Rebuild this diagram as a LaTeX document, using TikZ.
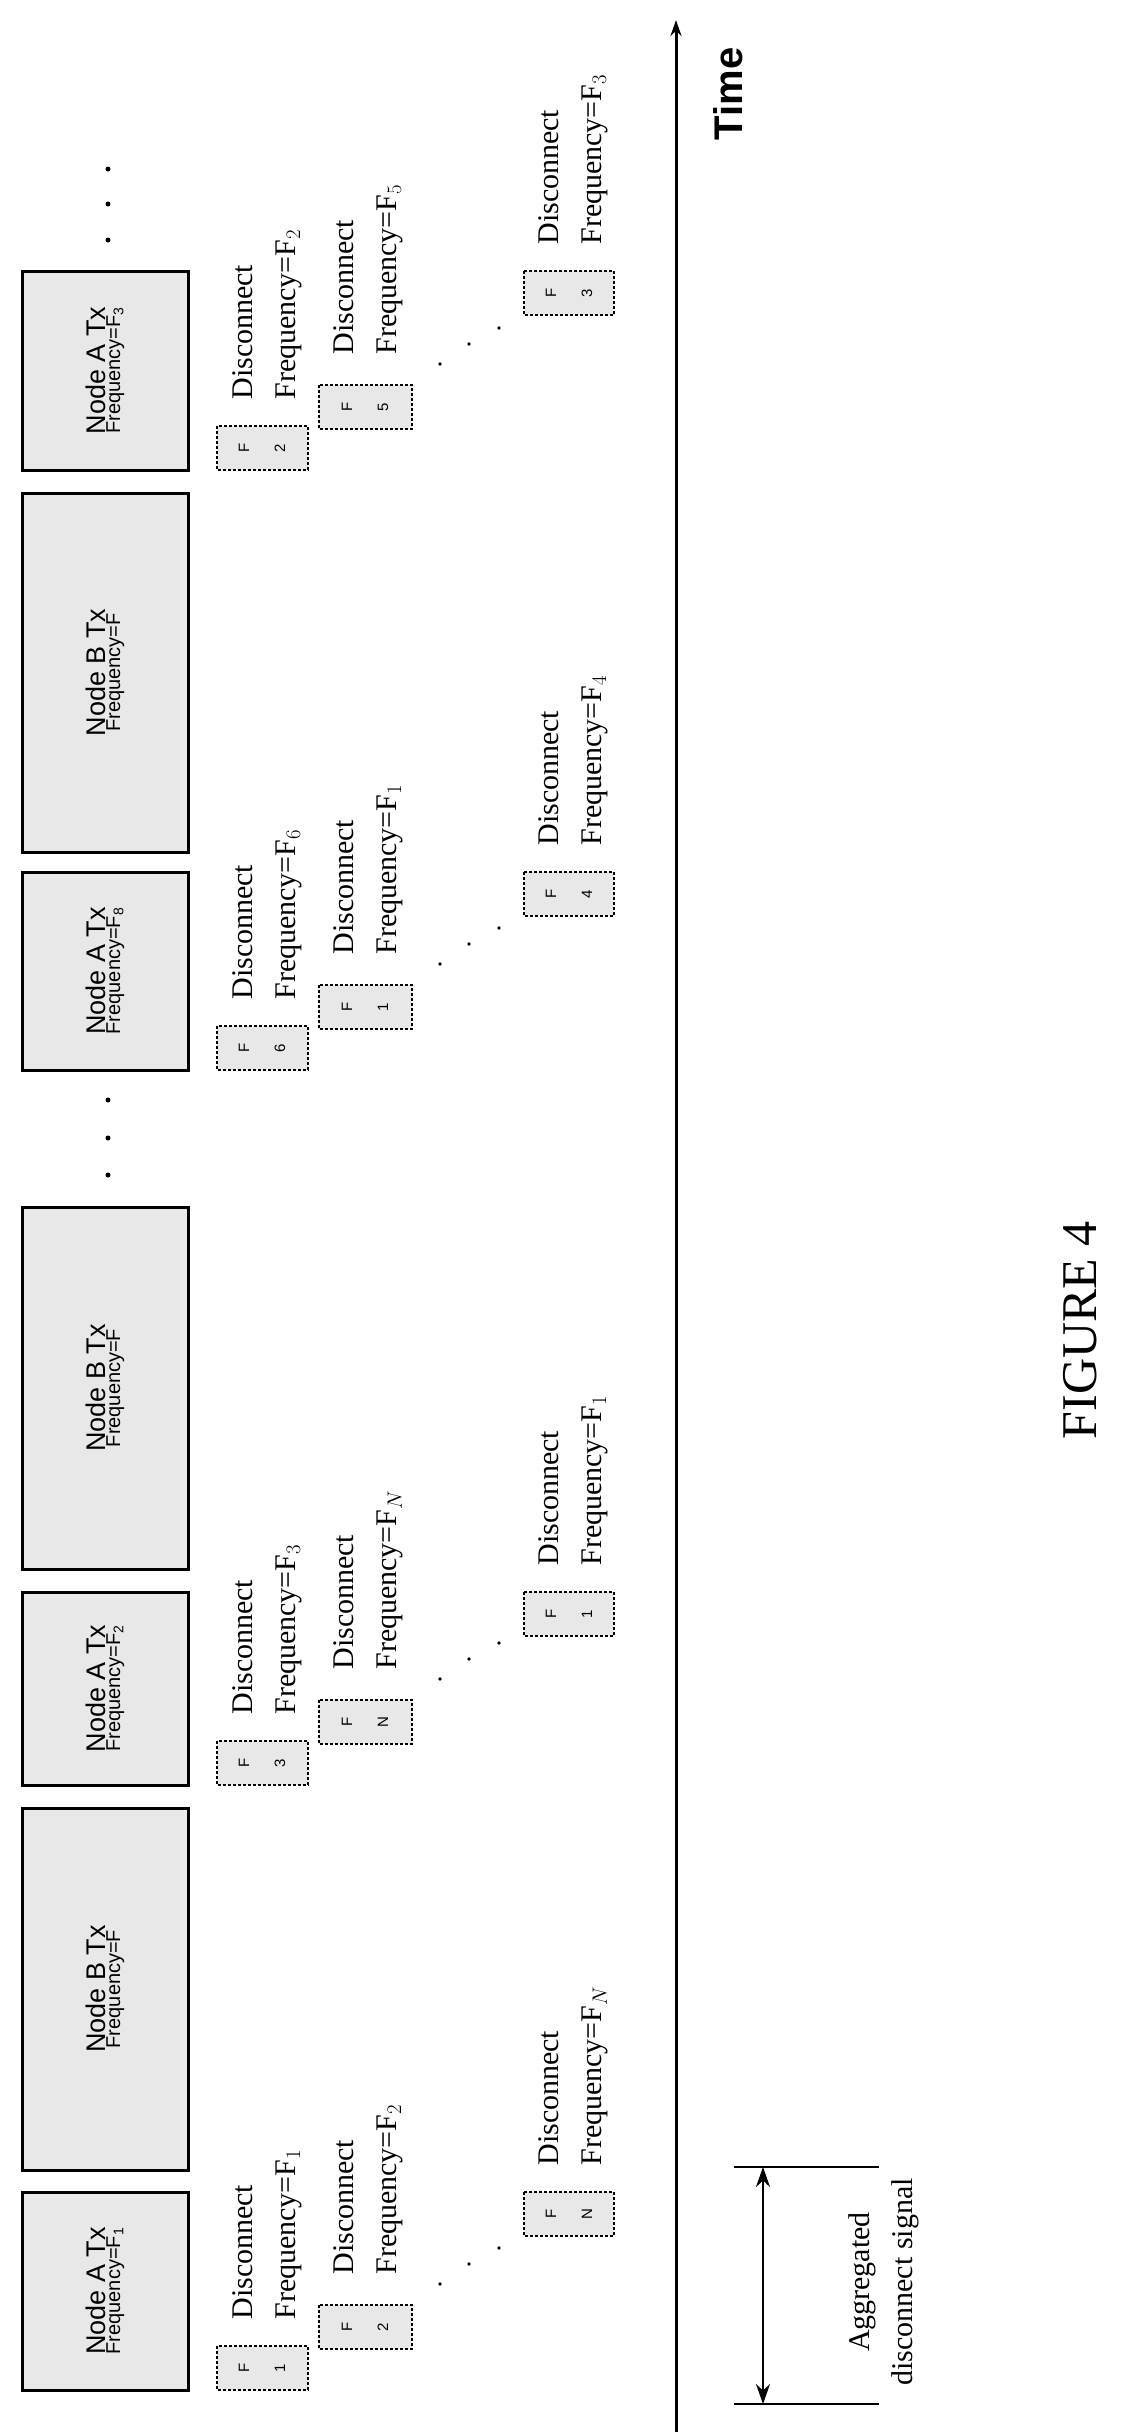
\documentclass[tikz,border=0pt]{standalone}
\usepackage{fontspec}
\setmainfont{Liberation Serif}
\setsansfont{Liberation Sans}
\usetikzlibrary{arrows.meta}

\tikzset{every picture/.style={line width=0.75pt}}
\tikzset{
  txbox/.style={draw, line width=3pt, fill=gray!18},
  discbox/.style={draw, dashed, line width=2pt, dash pattern=on 3pt off 2pt, fill=gray!18},
  disctext/.style={rotate=90, anchor=north west, align=left, inner sep=0pt,
    font=\fontsize{30}{43}\selectfont},
  txtext/.style={rotate=90, align=center, inner sep=0pt, font=\sffamily},
  dotmark/.style={fill=black}
}

\begin{document}
\begin{tikzpicture}[x=1pt,y=1pt,yscale=-1,xscale=1]
\useasboundingbox (0,0) rectangle (1122,2434);

%Node A / Node B transmissions
\foreach \top/\bot/\nd/\fr [count=\i] in {2192/2390/A/{F_1}, 1808/2170/B/F, 1592/1785/A/{F_2},
    1207/1569/B/F, 872/1070/A/{F_8}, 493/852/B/F, 271/470/A/{F_3}}{
  \draw [txbox] (22,\top) rectangle (188,\bot);
  \node (tx\i) [txtext] at (105,{(\top+\bot)/2})
    {{\fontsize{27}{40}\selectfont Node \nd\ Tx}\\{\fontsize{20}{26}\selectfont Frequency=$\mathsf{\fr}$}};
}

%Vertical dots
\foreach \y in {1100,1138,1175,169,204,240}
  \fill [dotmark] (108,\y) circle (2.5);

%Disconnect signals
\foreach \top/\bot/\fa/\fb/\fc [count=\g] in {2192/2390/1/2/N, 1592/1785/3/N/1, 872/1070/6/1/4, 271/470/2/5/3}{
  % first
  \draw [discbox] (217,\bot-44) rectangle (308,\bot);
  \node (da\g) [rotate=90, align=center, font=\sffamily\fontsize{15}{36}\selectfont] at (262,\bot-22) {F\\\fa};
  \node (ta\g) [disctext] at (232,\bot-70) {Disconnect\\Frequency=F$_{\fa}$};
  % second
  \draw [discbox] (319,\bot-85) rectangle (412,\bot-41);
  \node (db\g) [rotate=90, align=center, font=\sffamily\fontsize{15}{36}\selectfont] at (365,\bot-63) {F\\\fb};
  \node (tb\g) [disctext] at (333,\bot-115) {Disconnect\\Frequency=F$_{\fb}$};
  % dots
  \fill [dotmark] (440,\bot-106) circle (1.8);
  \fill [dotmark] (469,\bot-126) circle (1.8);
  \fill [dotmark] (499,\bot-142) circle (1.8);
  % third
  \draw [discbox] (524,\top) rectangle (614,\top+44);
  \node (dc\g) [rotate=90, align=center, font=\sffamily\fontsize{15}{36}\selectfont] at (569,\top+22) {F\\\fc};
  \node (tc\g) [disctext] at (538,\top-26) {Disconnect\\Frequency=F$_{\fc}$};
}

%Time axis
\coordinate (t0) at (676,2432);
\coordinate (t1) at (676,20);
\draw [line width=3pt, -{Stealth[length=16pt,width=11pt]}] (t0) -- (t1);
\node (time) [rotate=90, font=\sffamily\bfseries\fontsize{40}{48}\selectfont] at (728,94) {Time};

%Aggregated disconnect signal
\coordinate (ag0) at (734,2167);
\coordinate (ag1) at (734,2404);
\draw [line width=2pt] (ag0) -- ++(145,0);
\draw [line width=2pt] (ag1) -- ++(145,0);
\draw [line width=2.5pt, {Stealth[length=20pt,width=14pt]}-{Stealth[length=20pt,width=14pt]}] (763,2167) -- (763,2404);
\node (agg) [rotate=90, align=center, font=\fontsize{30}{43}\selectfont] at (884,2282) {Aggregated\\disconnect signal};

\node (fig) [rotate=90, font=\fontsize{50}{60}\selectfont] at (1080,1330) {FIGURE 4};
\end{tikzpicture}
\end{document}
